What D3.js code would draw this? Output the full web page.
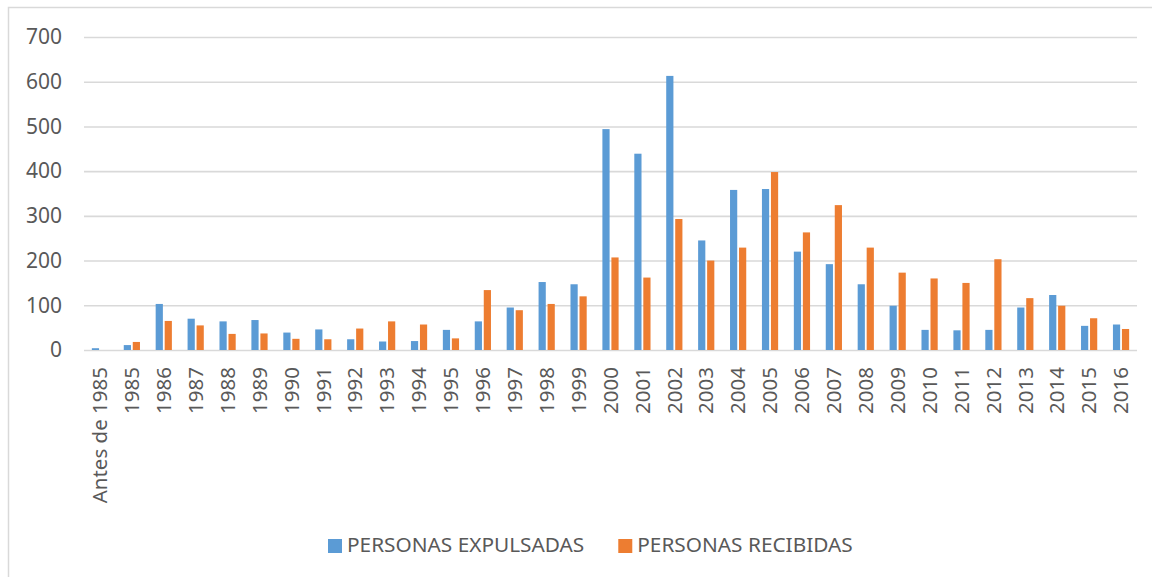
<!DOCTYPE html>
<head>
  <meta charset="utf-8">
  <script src="https://d3js.org/d3.v7.min.js"></script>
  <style>
    body { margin:0; background:white; }
    svg { display:block; }
    text { font-family: "Noto Sans", "Open Sans", sans-serif; fill: #595959; }
  </style>
</head>

<body>
  <script>
    var width = 1152;
    var height = 577;

    var years = ["Antes de 1985", "1985", "1986", "1987", "1988", "1989", "1990", "1991",
      "1992", "1993", "1994", "1995", "1996", "1997", "1998", "1999", "2000", "2001",
      "2002", "2003", "2004", "2005", "2006", "2007", "2008", "2009", "2010", "2011",
      "2012", "2013", "2014", "2015", "2016"];

    var expulsadas = [4, 11, 103, 70, 64, 67, 39, 46, 24, 19, 20, 45, 64, 95, 152, 147,
      494, 439, 613, 245, 358, 360, 220, 192, 147, 99, 45, 44, 45, 95, 123, 54, 57];

    var recibidas = [0, 18, 65, 55, 36, 37, 25, 24, 48, 64, 57, 26, 134, 89, 103, 120,
      207, 162, 293, 200, 229, 398, 263, 324, 229, 173, 160, 150, 203, 116, 99, 71, 47];

    var seriesNames = ["PERSONAS EXPULSADAS", "PERSONAS RECIBIDAS"];
    var colors = ["#5B9BD5", "#ED7D31"];
    var yTicks = [0, 100, 200, 300, 400, 500, 600, 700];

    var margin = { top: 37, left: 84, right: 15, bottom: 227 };

    var svg = d3.select("body").append("svg")
      .attr("width", width)
      .attr("height", height);

    // light frame round the chart area
    svg.append("rect")
      .attr("x", 8.5).attr("y", 7.5)
      .attr("width", width).attr("height", height)
      .attr("fill", "none")
      .attr("stroke", "#D9D9D9")
      .attr("stroke-width", 1.5);

    var x0 = d3.scaleBand()
      .domain(years)
      .range([margin.left, width - margin.right])
      .paddingInner(0.492)
      .paddingOuter(0.246);

    var x1 = d3.scaleBand()
      .domain([0, 1])
      .range([0, x0.bandwidth()])
      .paddingInner(0.2);

    var y = d3.scaleLinear()
      .domain([0, 700])
      .range([height - margin.bottom, margin.top]);

    // gridlines + y labels
    var yAxis = d3.axisLeft(y)
      .tickValues(yTicks)
      .tickSize(-(width - margin.right - margin.left))
      .tickPadding(22);

    var yG = svg.append("g")
      .attr("transform", "translate(" + margin.left + ",0)")
      .call(yAxis);

    yG.select(".domain").remove();
    yG.selectAll(".tick line")
      .attr("stroke", "#D9D9D9")
      .attr("stroke-width", 1.6);
    yG.selectAll(".tick text")
      .attr("font-size", 21)
      .attr("fill", "#595959")
      .style("font-family", "'Noto Sans', sans-serif");

    var data = years.map(function(d, i) {
      return { year: d, values: [expulsadas[i], recibidas[i]] };
    });

    var groups = svg.append("g").attr("class", "bars")
      .selectAll("g")
      .data(data)
      .enter()
      .append("g")
      .attr("transform", function(d) { return "translate(" + x0(d.year) + ",0)"; });

    groups.selectAll("rect")
      .data(function(d) { return d.values; })
      .enter()
      .append("rect")
      .attr("x", function(d, i) { return x1(i); })
      .attr("y", function(d) { return y(d); })
      .attr("width", x1.bandwidth())
      .attr("height", function(d) { return y(0) - y(d); })
      .attr("fill", function(d, i) { return colors[i]; });

    // category labels, turned upright
    var xAxis = d3.axisBottom(x0).tickSize(0).tickPadding(0);
    var xG = svg.append("g")
      .attr("transform", "translate(0," + y(0) + ")")
      .call(xAxis);
    xG.select(".domain").remove();
    xG.selectAll(".tick text")
      .attr("font-size", 20.5)
      .attr("fill", "#595959")
      .style("font-family", "'Noto Sans', sans-serif")
      .attr("text-anchor", "end")
      .attr("dy", "0.35em")
      .attr("y", 0)
      .attr("transform", "translate(0,17) rotate(-90)");

    // legend
    var legend = svg.append("g").attr("class", "legend");
    var lx = 328;
    seriesNames.forEach(function(name, i) {
      legend.append("rect")
        .attr("x", lx).attr("y", 539)
        .attr("width", 14).attr("height", 14)
        .attr("fill", colors[i]);
      var t = legend.append("text")
        .attr("x", lx + 19).attr("y", 552)
        .attr("font-size", 20.8)
        .text(name);
      lx = lx + 19 + t.node().getComputedTextLength() + 34;
    });
  </script>
</body>
